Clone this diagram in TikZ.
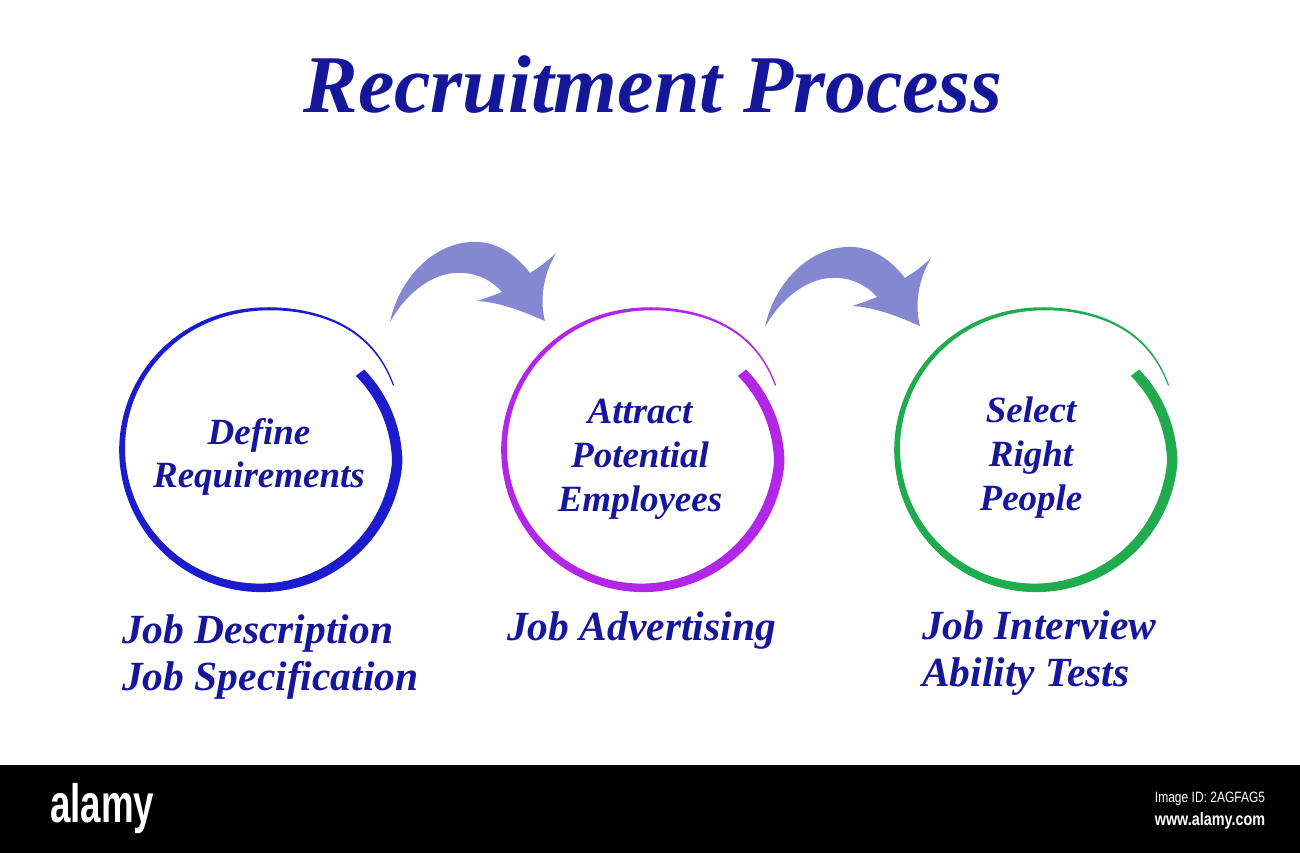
\documentclass[tikz,border=0pt]{standalone}
\usepackage{fontspec}
\setmainfont{Liberation Serif}
\setsansfont{Liberation Sans}
\definecolor{txtblue}{RGB}{22,22,155}
\definecolor{cblue}{RGB}{28,28,205}
\definecolor{cpurple}{RGB}{178,38,232}
\definecolor{cgreen}{RGB}{32,172,78}
\definecolor{arrowc}{RGB}{132,136,208}
\newcommand\brushring[3]{%
  \fill[#3] plot[domain=26:398,samples=160]
    ({#1+(rr(\x)+ww(\x)/2)*cos(\x)},{#2-(rr(\x)+ww(\x)/2)*sin(\x)})
    -- plot[domain=398:26,samples=160]
    ({#1+(rr(\x)-ww(\x)/2)*cos(\x)},{#2-(rr(\x)-ww(\x)/2)*sin(\x)}) -- cycle;}
\tikzset{
  declare function={
    rr(\t)=140+10*exp(-((\t-45)/30)*((\t-45)/30))-0.012*(\t-90)-0.25*max(0,\t-355);
    ww(\t)=min(10.5,1.2+0.03*(\t-26));},
  titlestyle/.style={font=\fontsize{82}{90}\selectfont\bfseries\itshape, text=txtblue, inner sep=0pt, anchor=base},
  lbl/.style={font=\fontsize{37}{44}\selectfont\bfseries\itshape, text=txtblue, inner sep=0pt, anchor=base},
  sub/.style={font=\fontsize{41.5}{47}\selectfont\bfseries\itshape, text=txtblue, inner sep=0pt, anchor=base west},
  wm/.style={text=white, inner sep=0pt, anchor=base},
  curvearrow/.pic={
    \fill[arrowc] (0,0) .. controls (8,-40) and (42,-82) .. (88,-80)
      .. controls (112,-79) and (130,-62) .. (140,-49)
      .. controls (148,-54) and (158,-61) .. (166,-69)
      .. controls (152,-45) and (150,-20) .. (155,-1)
      .. controls (130,-12) and (108,-20) .. (87,-21)
      .. controls (96,-24) and (105,-27) .. (112,-30)
      .. controls (100,-44) and (82,-50) .. (67,-49)
      .. controls (45,-49) and (18,-32) .. (0,0) -- cycle;
  }
}
\begin{document}
\begin{tikzpicture}[x=1pt,y=-1pt]
\fill[white] (0,0) rectangle (1300,853);
\useasboundingbox (0,0) rectangle (1300,853);

% title
\node[titlestyle] (title) at (653,113) {Recruitment Process};

% arrows
\pic at (390,322) {curvearrow};
\pic at (765,327) {curvearrow};

% brush circles
\brushring{261}{450}{cblue}
\brushring{643}{450}{cpurple}
\brushring{1036}{450}{cgreen}

% circle labels
\node[lbl] (d1) at (259,444) {Define};
\node[lbl] (d2) at (259,487) {Requirements};
\node[lbl] (a1) at (640,423) {Attract};
\node[lbl] (a2) at (640,467) {Potential};
\node[lbl] (a3) at (640,511) {Employees};
\node[lbl] (s1) at (1031,422) {Select};
\node[lbl] (s2) at (1031,466) {Right};
\node[lbl] (s3) at (1031,510) {People};

% lower labels
\node[sub] (j1) at (122,643) {Job Description};
\node[sub] (j2) at (122,690) {Job Specification};
\node[sub] (j3) at (507,640) {Job Advertising};
\node[sub] (j4) at (922,639) {Job Interview};
\node[sub] (j5) at (922,686) {Ability Tests};

% watermark bar
\fill[black] (0,765) rectangle (1300,853);
\node[wm, anchor=base west, xscale=0.68, font=\sffamily\bfseries\fontsize{54}{54}\selectfont] (logo) at (50,822) {alamy};
\node[wm, xscale=0.8, font=\sffamily\fontsize{15}{15}\selectfont] (imgid) at (1210,802) {Image ID: 2AGFAG5};
\node[wm, xscale=0.8, font=\sffamily\bfseries\fontsize{18}{18}\selectfont] (url) at (1210,825) {www.alamy.com};
\end{tikzpicture}
\end{document}
